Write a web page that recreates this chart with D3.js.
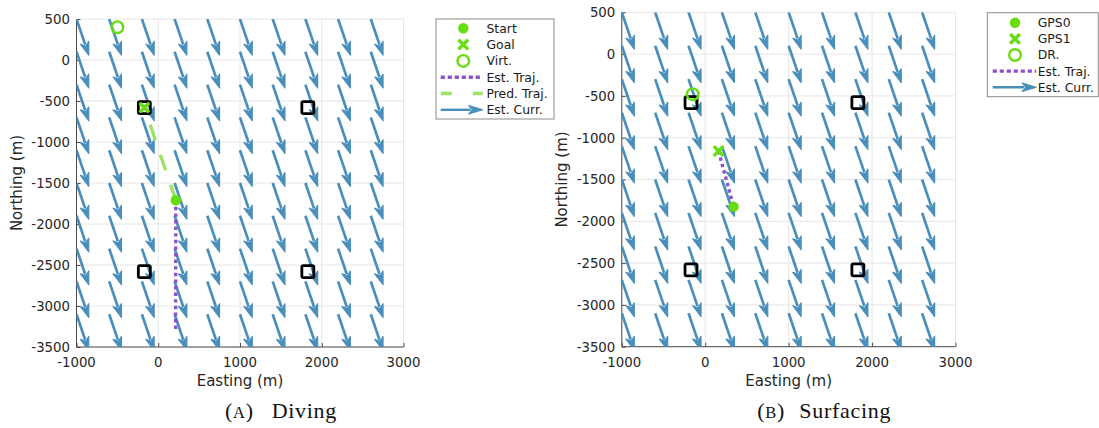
<!DOCTYPE html>
<html>
<head>
<meta charset="utf-8">
<script src="https://cdn.jsdelivr.net/npm/d3@7"></script>
<style>
  html, body { margin: 0; padding: 0; background: #fff; }
  svg { display: block; }
  .tick-label { font-family: "DejaVu Sans", sans-serif; font-size: 13.3px; fill: #262626; }
  .axis-title { font-family: "DejaVu Sans", sans-serif; font-size: 15px; fill: #262626; }
  .legend-text { font-family: "DejaVu Sans", sans-serif; font-size: 12.4px; fill: #1a1a1a; }
  .caption { font-family: "Liberation Serif", serif; font-size: 22px; fill: #111; letter-spacing: 0.7px; }
</style>
</head>
<body>
<svg id="fig" width="1099" height="428"></svg>
<script>
// ---- axis ticks (metres) ----
const eastTicks = [-1000, 0, 1000, 2000, 3000];
const northTicks = [-3500, -3000, -2500, -2000, -1500, -1000, -500, 0, 500];

// ---- estimated current field: grid of arrow tails and the arrow vector (metres) ----
const currentGridEast = [-1000, -600, -200, 200, 600, 1000, 1400, 1800, 2200, 2600];
const currentGridNorth = [500, 100, -300, -700, -1100, -1500, -1900, -2300, -2700, -3100];
const currentEast = 150;
const currentNorth = -440;

// ---- beacons (black squares) ----
const beaconEast = [-170, 1830, -170, 1830];
const beaconNorth = [-580, -580, -2580, -2580];

// ---- diving panel ----
const divingStart = [215, -1710];
const divingGoal = [-170, -580];
const divingVirtual = [-500, 400];
const divingEstTraj = [[215, -1710], [212, -3290]];
const divingPredTraj = [[215, -1710], [-170, -580]];

// ---- surfacing panel ----
const surfGps0 = [340, -1825];
const surfGps1 = [160, -1160];
const surfDeadReckoning = [-150, -480];
const surfEstTraj = [[160, -1160], [340, -1825]];

// ---- styling ----
const colArrow = "#4a8fbb";
const colGreen = "#66dd0f";
const colPred = "#9be36a";
const colPurple = "#8c52c9";
const colAxis = "#4d4d4d";
const colGrid = "#e6e6e6";

const svg = d3.select("#fig");

function drawArrow(g, x0, y0, x1, y1, headLen, headHalf, width) {
  const dx = x1 - x0, dy = y1 - y0;
  const len = Math.hypot(dx, dy);
  const ux = dx / len, uy = dy / len;
  const bx = x1 - ux * headLen * 0.85, by = y1 - uy * headLen * 0.85;
  g.append("line")
    .attr("x1", x0).attr("y1", y0).attr("x2", bx).attr("y2", by)
    .attr("stroke", colArrow).attr("stroke-width", width).attr("stroke-linecap", "butt");
  const hx = x1 - ux * headLen, hy = y1 - uy * headLen;
  const px = -uy * headHalf, py = ux * headHalf;
  g.append("path")
    .attr("d", `M${x1},${y1}L${hx + px},${hy + py}L${x1 - ux * headLen * 0.72},${y1 - uy * headLen * 0.72}L${hx - px},${hy - py}Z`)
    .attr("fill", colArrow).attr("stroke", colArrow).attr("stroke-width", 1.2).attr("stroke-linejoin", "round");
}

function crossPath(cx, cy, r) {
  return `M${cx - r},${cy - r}L${cx + r},${cy + r}M${cx - r},${cy + r}L${cx + r},${cy - r}`;
}

function drawPanel(id, box) {
  const x = d3.scaleLinear().domain([-1000, 3000]).range([box.x0, box.x1]);
  const y = d3.scaleLinear().domain([-3500, 500]).range([box.y1, box.y0]);
  const g = svg.append("g");

  g.append("clipPath").attr("id", "clip-" + id)
    .append("rect").attr("x", box.x0).attr("y", box.y0)
    .attr("width", box.x1 - box.x0).attr("height", box.y1 - box.y0);

  // grid
  const grid = g.append("g");
  eastTicks.forEach(t => grid.append("line")
    .attr("x1", x(t)).attr("x2", x(t)).attr("y1", box.y0).attr("y2", box.y1)
    .attr("stroke", colGrid).attr("stroke-width", 1));
  northTicks.forEach(t => grid.append("line")
    .attr("x1", box.x0).attr("x2", box.x1).attr("y1", y(t)).attr("y2", y(t))
    .attr("stroke", colGrid).attr("stroke-width", 1));

  // axes: left and bottom, inward ticks
  const axes = g.append("g");
  const yAxis = d3.axisLeft(y).tickValues(northTicks).tickSize(-4).tickFormat("");
  const xAxis = d3.axisBottom(x).tickValues(eastTicks).tickSize(-4).tickFormat("");
  axes.append("g").attr("transform", `translate(${box.x0},0)`).call(yAxis)
    .call(s => s.selectAll("path,line").attr("stroke", colAxis));
  axes.append("g").attr("transform", `translate(0,${box.y1})`).call(xAxis)
    .call(s => s.selectAll("path,line").attr("stroke", colAxis));
  axes.selectAll(".domain").attr("d", null);
  axes.append("line").attr("x1", box.x0).attr("x2", box.x0).attr("y1", box.y0).attr("y2", box.y1)
    .attr("stroke", colAxis).attr("stroke-width", 1);
  axes.append("line").attr("x1", box.x0).attr("x2", box.x1).attr("y1", box.y1).attr("y2", box.y1)
    .attr("stroke", colAxis).attr("stroke-width", 1);

  // tick labels
  northTicks.forEach(t => g.append("text").attr("class", "tick-label")
    .attr("x", box.x0 - 6.5).attr("y", y(t) + 4.8).attr("text-anchor", "end").text(t));
  eastTicks.forEach(t => g.append("text").attr("class", "tick-label")
    .attr("x", x(t)).attr("y", box.y1 + 20.2).attr("text-anchor", "middle").text(t));

  // current arrows
  const arrows = g.append("g").attr("clip-path", `url(#clip-${id})`);
  currentGridEast.forEach(e => currentGridNorth.forEach(n => {
    drawArrow(arrows, x(e), y(n), x(e + currentEast), y(n + currentNorth), 13, 4.4, 2.7);
  }));

  // beacons
  beaconEast.forEach((e, i) => {
    g.append("rect")
      .attr("x", x(e) - 6).attr("y", y(beaconNorth[i]) - 6)
      .attr("width", 12).attr("height", 12).attr("rx", 1.5)
      .attr("fill", "none").attr("stroke", "#000").attr("stroke-width", 2.8);
  });

  return { g, x, y };
}

// ---- left: diving ----
const left = drawPanel("dive", { x0: 76.5, x1: 403.5, y0: 19, y1: 347 });
{
  const { g, x, y } = left;
  const line = d3.line().x(d => x(d[0])).y(d => y(d[1]));
  g.append("path").attr("d", line(divingEstTraj))
    .attr("fill", "none").attr("stroke", colPurple).attr("stroke-width", 3.4)
    .attr("stroke-dasharray", "3.4,3.2");
  g.append("path").attr("d", line(divingPredTraj))
    .attr("fill", "none").attr("stroke", colPred).attr("stroke-width", 3.4)
    .attr("stroke-dasharray", "16.4,15.3");
  g.append("circle").attr("cx", x(divingStart[0])).attr("cy", y(divingStart[1])).attr("r", 5.2)
    .attr("fill", colGreen);
  g.append("path").attr("d", crossPath(x(divingGoal[0]), y(divingGoal[1]), 4.8))
    .attr("stroke", colGreen).attr("stroke-width", 3.4).attr("fill", "none");
  g.append("circle").attr("cx", x(divingVirtual[0])).attr("cy", y(divingVirtual[1])).attr("r", 5.8)
    .attr("fill", "none").attr("stroke", colGreen).attr("stroke-width", 2.4);

  svg.append("text").attr("class", "axis-title")
    .attr("x", 240).attr("y", 385.7).attr("text-anchor", "middle").text("Easting (m)");
  svg.append("text").attr("class", "axis-title")
    .attr("transform", "translate(21.5,183) rotate(-90)").attr("text-anchor", "middle").text("Northing (m)");
}

// ---- right: surfacing ----
const right = drawPanel("surf", { x0: 621.8, x1: 955.5, y0: 12.3, y1: 346.7 });
{
  const { g, x, y } = right;
  const line = d3.line().x(d => x(d[0])).y(d => y(d[1]));
  g.append("path").attr("d", line(surfEstTraj))
    .attr("fill", "none").attr("stroke", colPurple).attr("stroke-width", 3.4)
    .attr("stroke-dasharray", "3.4,3.2");
  g.append("circle").attr("cx", x(surfGps0[0])).attr("cy", y(surfGps0[1])).attr("r", 5.2)
    .attr("fill", colGreen);
  g.append("path").attr("d", crossPath(x(surfGps1[0]), y(surfGps1[1]), 4.8))
    .attr("stroke", colGreen).attr("stroke-width", 3.4).attr("fill", "none");
  g.append("circle").attr("cx", x(surfDeadReckoning[0])).attr("cy", y(surfDeadReckoning[1])).attr("r", 5.8)
    .attr("fill", "none").attr("stroke", colGreen).attr("stroke-width", 2.4);

  svg.append("text").attr("class", "axis-title")
    .attr("x", 788.7).attr("y", 385.7).attr("text-anchor", "middle").text("Easting (m)");
  svg.append("text").attr("class", "axis-title")
    .attr("transform", "translate(567,179.5) rotate(-90)").attr("text-anchor", "middle").text("Northing (m)");
}

// ---- legends ----
function drawLegend(spec) {
  const g = svg.append("g");
  g.append("rect").attr("x", spec.x0).attr("y", spec.y0)
    .attr("width", spec.x1 - spec.x0).attr("height", spec.y1 - spec.y0)
    .attr("fill", "#fff").attr("stroke", "#8a8a8a").attr("stroke-width", 1);
  spec.items.forEach((it, i) => {
    const yc = spec.row0 + i * spec.rowStep;
    const mx = spec.markerX, la = spec.lineA, lb = spec.lineB;
    if (it.kind === "dot") {
      g.append("circle").attr("cx", mx).attr("cy", yc).attr("r", 5.2).attr("fill", colGreen);
    } else if (it.kind === "cross") {
      g.append("path").attr("d", crossPath(mx, yc, 4.8)).attr("stroke", colGreen).attr("stroke-width", 3.4);
    } else if (it.kind === "ring") {
      g.append("circle").attr("cx", mx).attr("cy", yc).attr("r", 5.8)
        .attr("fill", "none").attr("stroke", colGreen).attr("stroke-width", 2.4);
    } else if (it.kind === "dotted") {
      g.append("line").attr("x1", la).attr("x2", lb).attr("y1", yc).attr("y2", yc)
        .attr("stroke", colPurple).attr("stroke-width", 3.4).attr("stroke-dasharray", "4.2,2.8");
    } else if (it.kind === "dashed") {
      g.append("line").attr("x1", la).attr("x2", lb).attr("y1", yc).attr("y2", yc)
        .attr("stroke", colPred).attr("stroke-width", 3.4).attr("stroke-dasharray", "11,21");
    } else if (it.kind === "arrow") {
      drawArrow(g, la, yc, lb, yc, 14, 4.2, 2.4);
    }
    g.append("text").attr("class", "legend-text")
      .attr("x", spec.textX).attr("y", yc + 4.4).text(it.label);
  });
}

drawLegend({
  x0: 436, x1: 554, y0: 19, y1: 119,
  row0: 28.3, rowStep: 16.3, markerX: 463.3, lineA: 440.7, lineB: 482.7, textX: 486.5,
  items: [
    { kind: "dot", label: "Start" },
    { kind: "cross", label: "Goal" },
    { kind: "ring", label: "Virt." },
    { kind: "dotted", label: "Est. Traj." },
    { kind: "dashed", label: "Pred. Traj." },
    { kind: "arrow", label: "Est. Curr." }
  ]
});

drawLegend({
  x0: 987.3, x1: 1098.3, y0: 12.7, y1: 96.7,
  row0: 22.7, rowStep: 16.15, markerX: 1015, lineA: 992.7, lineB: 1036.2, textX: 1037.7,
  items: [
    { kind: "dot", label: "GPS0" },
    { kind: "cross", label: "GPS1" },
    { kind: "ring", label: "DR." },
    { kind: "dotted", label: "Est. Traj." },
    { kind: "arrow", label: "Est. Curr." }
  ]
});

// ---- sub-captions ----
function caption(xParen, xWord, letter, word) {
  const t = svg.append("text").attr("class", "caption").attr("x", xParen).attr("y", 418);
  t.append("tspan").text("(");
  t.append("tspan").attr("font-size", "16.5px").text(letter);
  t.append("tspan").text(")");
  t.append("tspan").attr("x", xWord).text(word);
}
caption(225, 271.7, "A", "Diving");
caption(757.3, 799.3, "B", "Surfacing");
</script>
</body>
</html>
